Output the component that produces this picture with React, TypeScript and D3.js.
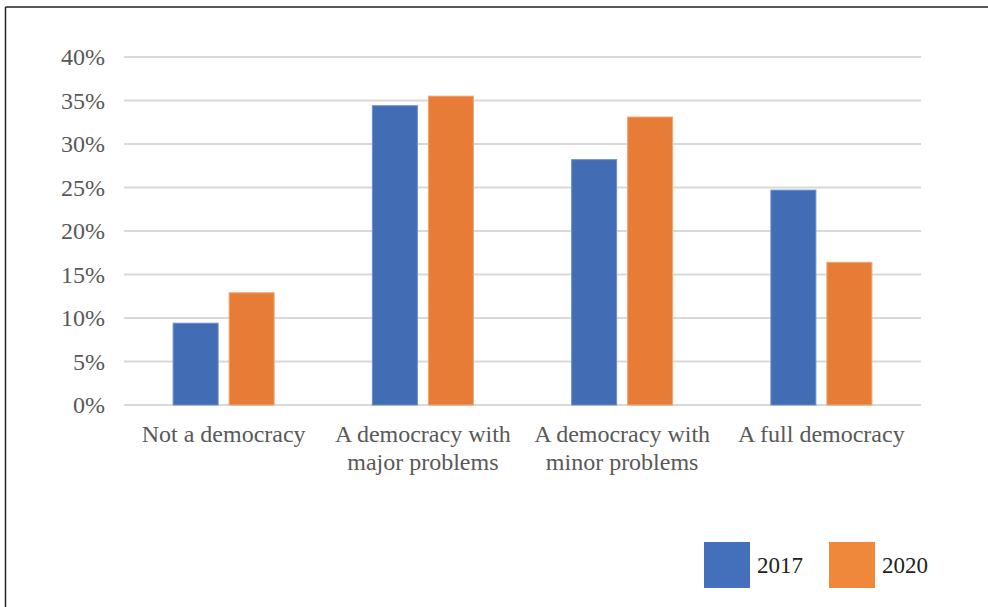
import React from "react";
import * as d3 from "d3";

const categories: string[][] = [
  ["Not a democracy"],
  ["A democracy with", "major problems"],
  ["A democracy with", "minor problems"],
  ["A full democracy"],
];
const series2017: number[] = [9.4, 34.4, 28.2, 24.7];
const series2020: number[] = [12.9, 35.5, 33.1, 16.4];
const seriesNames: string[] = ["2017", "2020"];
const yTicks: number[] = [0, 5, 10, 15, 20, 25, 30, 35, 40];

const W = 988;
const H = 607;
const plot = { left: 124, right: 921, top: 57, bottom: 405 };
const barColors = ["#426cb4", "#e67c35"];
const legendColors = ["#4470bb", "#f0883b"];
const font = "'Liberation Serif', 'Times New Roman', serif";

export default function App() {
  const x = d3
    .scaleBand<number>()
    .domain(d3.range(categories.length))
    .range([plot.left, plot.right])
    .paddingInner(0)
    .paddingOuter(0);
  const y = d3.scaleLinear().domain([0, 40]).range([plot.bottom, plot.top]);
  const barW = 45;
  const gap = 11;
  const all = [series2017, series2020];

  return (
    <svg
      width={W}
      height={H}
      style={{ position: "absolute", left: 0, top: 0, background: "#fff" }}
    >
      <rect x={0} y={0} width={W} height={H} fill="#fff" />
      {/* frame */}
      <line x1={5.5} y1={7} x2={W} y2={7} stroke="#222" strokeWidth={1.5} />
      <line x1={5.5} y1={7} x2={5.5} y2={H} stroke="#222" strokeWidth={1.5} />
      {/* gridlines and y labels */}
      {yTicks.map((t) => (
        <g key={t}>
          <line
            x1={plot.left}
            x2={plot.right}
            y1={y(t)}
            y2={y(t)}
            stroke="#d9d9d9"
            strokeWidth={2}
          />
          <text
            x={105}
            y={y(t)}
            dy="0.35em"
            textAnchor="end"
            fontFamily={font}
            fontSize={24}
            fill="#595959"
          >
            {t}%
          </text>
        </g>
      ))}
      {/* bars */}
      {categories.map((_, i) => {
        const cx = (x(i) as number) + x.bandwidth() / 2;
        return all.map((s, k) => {
          const bx = k === 0 ? cx - gap / 2 - barW : cx + gap / 2;
          return (
            <rect
              key={`${i}-${k}`}
              x={bx}
              y={y(s[i])}
              width={barW}
              height={y(0) - y(s[i])}
              fill={barColors[k]}
              stroke={k === 0 ? "#6d8fcc" : "#f0a676"}
              strokeWidth={1}
            />
          );
        });
      })}
      {/* category labels */}
      {categories.map((lines, i) => {
        const cx = (x(i) as number) + x.bandwidth() / 2;
        return (
          <text
            key={i}
            x={cx}
            y={442}
            textAnchor="middle"
            fontFamily={font}
            fontSize={24}
            fill="#595959"
          >
            {lines.map((l, j) => (
              <tspan key={j} x={cx} dy={j === 0 ? 0 : 28}>
                {l}
              </tspan>
            ))}
          </text>
        );
      })}
      {/* legend */}
      {seriesNames.map((n, k) => {
        const lx = 704 + k * 125;
        return (
          <g key={n}>
            <rect x={lx} y={542} width={46} height={46} fill={legendColors[k]} />
            <text
              x={lx + 53}
              y={573}
              fontFamily={font}
              fontSize={23}
              fill="#222"
            >
              {n}
            </text>
          </g>
        );
      })}
    </svg>
  );
}
